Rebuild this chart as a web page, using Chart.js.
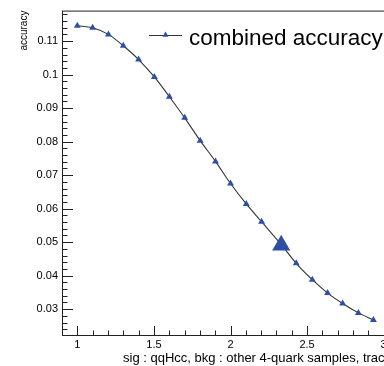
<!DOCTYPE html>
<html>
<head>
<meta charset="utf-8">
<script src="https://cdn.jsdelivr.net/npm/chart.js@4/dist/chart.umd.min.js"></script>
<style>
  html, body { margin: 0; padding: 0; background: #fff; overflow: hidden; }
  #wrap { width: 384px; height: 366px; overflow: hidden; }
  canvas { display: block; }
</style>
</head>
<body>
<div id="wrap"><canvas id="acc-chart" width="420" height="366"></canvas></div>
<script>
// accuracy scan, one point per cut value
var sig_vals = [1.0, 1.1, 1.203, 1.3, 1.4, 1.503, 1.601, 1.701, 1.802, 1.902,
  2.0, 2.103, 2.203, 2.331, 2.429, 2.534, 2.634, 2.732, 2.835, 2.933];
var acc_vals = [0.1146, 0.1140, 0.1120, 0.1086, 0.1045, 0.0993, 0.0934, 0.0871, 0.0803, 0.0741,
  0.0675, 0.0614, 0.0561, 0.0493, 0.0437, 0.0388, 0.0348, 0.0317, 0.0289, 0.0268];

// chosen working point
var best_sig = [2.331];
var best_acc = [0.0491];

var x_labels = [1, 1.5, 2, 2.5, 3];
var y_labels = [0.03, 0.04, 0.05, 0.06, 0.07, 0.08, 0.09, 0.1, 0.11];

var legend_text = "combined accuracy";
var x_title = "sig : qqHcc, bkg : other 4-quark samples, trace cut";
var y_title = "accuracy";

var marker_color = "#2d4fa6";
var line_color = "#333";
var font_family = "'Liberation Sans', Arial, Helvetica, sans-serif";

function to_points(xs, ys) {
  return xs.map((x, i) => ({ x: x, y: ys[i] }));
}

function triangle(ctx, x, y, r) {
  ctx.beginPath();
  ctx.moveTo(x, y - r);
  ctx.lineTo(x + r * 0.866, y + r / 2);
  ctx.lineTo(x - r * 0.866, y + r / 2);
  ctx.closePath();
  ctx.fill();
}

// root-style frame with inward major/minor ticks, legend and x title
const frame_ticks = {
  id: "frame_ticks",
  beforeDatasetsDraw(chart) {
    const ctx = chart.ctx;
    const area = chart.chartArea;
    const xs = chart.scales.x;
    const ys = chart.scales.y;
    ctx.save();
    ctx.strokeStyle = "#222";
    ctx.lineWidth = 1;
    ctx.strokeRect(area.left + 0.5, area.top + 0.5, area.right - area.left - 1, area.bottom - area.top);

    ctx.beginPath();
    for (let i = 0; i <= 22; i++) {
      const v = 0.9 + i * 0.1;
      const px = Math.round(xs.getPixelForValue(v)) + 0.5;
      const major = i % 5 === 1;
      const len = major ? 9 : 4.5;
      ctx.moveTo(px, area.bottom);
      ctx.lineTo(px, area.bottom - len);
    }
    for (let i = 12; i <= 59; i++) {
      const v = i * 0.002;
      const py = Math.round(ys.getPixelForValue(v)) + 0.5;
      if (py < area.top || py > area.bottom) continue;
      const major = i % 5 === 0;
      const len = major ? 11 : 5.5;
      ctx.moveTo(area.left, py);
      ctx.lineTo(area.left + len, py);
    }
    ctx.stroke();
    ctx.restore();
  },
  afterDraw(chart) {
    const ctx = chart.ctx;
    const ly = 35;
    ctx.save();
    ctx.strokeStyle = line_color;
    ctx.lineWidth = 1;
    ctx.beginPath();
    ctx.moveTo(149, ly + 0.5);
    ctx.lineTo(182, ly + 0.5);
    ctx.stroke();
    ctx.fillStyle = marker_color;
    triangle(ctx, 165.5, ly, 3.5);
    ctx.fillStyle = "#000";
    ctx.font = "22.5px " + font_family;
    ctx.textBaseline = "alphabetic";
    ctx.fillText(legend_text, 189, 45);

    // axis title sits under the ticks, running past the right edge
    ctx.font = "13px " + font_family;
    ctx.textBaseline = "middle";
    ctx.fillText(x_title, 123, 358);
    ctx.restore();
  },
};

var acc_chart = new Chart(document.getElementById("acc-chart"), {
  type: "scatter",
  data: {
    datasets: [
      {
        label: "best",
        data: to_points(best_sig, best_acc),
        pointStyle: "triangle",
        pointRadius: 10.5,
        pointBorderWidth: 0,
        pointBackgroundColor: marker_color,
        order: 0,
      },
      {
        label: legend_text,
        data: to_points(sig_vals, acc_vals),
        showLine: true,
        cubicInterpolationMode: "monotone",
        borderColor: line_color,
        borderWidth: 1.1,
        pointStyle: "triangle",
        pointRadius: 4,
        pointBorderWidth: 0,
        pointBackgroundColor: marker_color,
        order: 1,
      },
    ],
  },
  options: {
    responsive: false,
    animation: false,
    layout: { padding: { top: 8, right: 21, left: 0, bottom: 0 } },
    plugins: {
      legend: { display: false },
      tooltip: { enabled: false },
    },
    scales: {
      x: {
        type: "linear",
        min: 0.9,
        max: 3.1,
        afterBuildTicks: (axis) => {
          axis.ticks = x_labels.map((v) => ({ value: v }));
        },
        afterFit: (axis) => {
          axis.height = 31;
        },
        grid: { display: false, drawTicks: false },
        border: { display: false },
        ticks: {
          padding: 3,
          color: "#000",
          font: { family: font_family, size: 11 },
          maxRotation: 0,
          callback: (v) => String(v),
        },
      },
      y: {
        min: 0.0223,
        max: 0.1191,
        afterBuildTicks: (axis) => {
          axis.ticks = y_labels.map((v) => ({ value: v }));
        },
        afterFit: (axis) => {
          axis.width = 62;
        },
        grid: { display: false, drawTicks: false },
        border: { display: false },
        ticks: {
          padding: 4,
          color: "#000",
          font: { family: font_family, size: 11 },
          callback: (v) => String(+v.toFixed(3)),
        },
        title: {
          display: true,
          text: y_title,
          align: "end",
          color: "#000",
          font: { family: font_family, size: 10 },
          padding: { top: 18, bottom: 0 },
        },
      },
    },
  },
  plugins: [frame_ticks],
});
</script>
</body>
</html>
